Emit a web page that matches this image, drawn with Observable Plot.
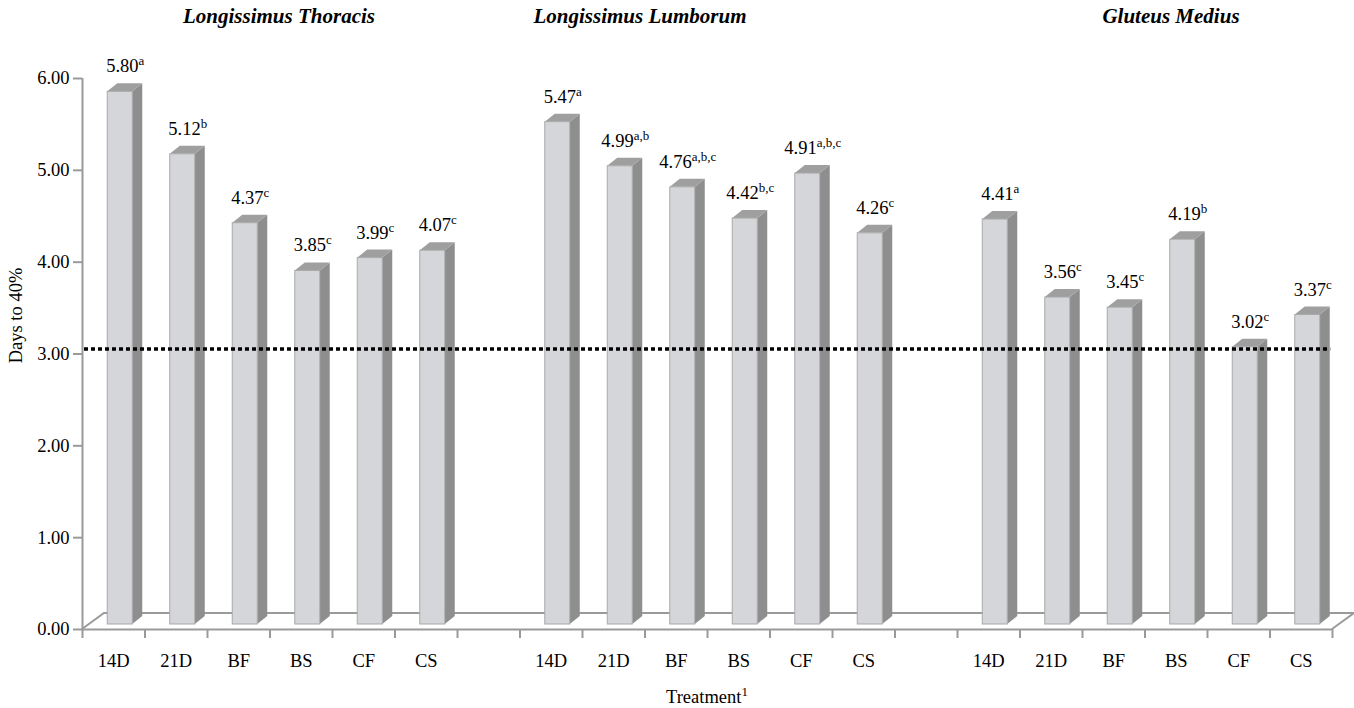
<!DOCTYPE html>
<html><head><meta charset="utf-8">
<script src="https://cdn.jsdelivr.net/npm/d3@7"></script>
<script src="https://cdn.jsdelivr.net/npm/@observablehq/plot@0.6"></script>
<style>
body{margin:0;background:#fff}
#chart{position:relative;width:1354px;height:708px;font-family:"Liberation Serif",serif}
.gt{position:absolute;top:4px;font-weight:bold;font-style:italic;font-size:21px;transform:translateX(-50%);white-space:nowrap}
</style>
</head><body><div id="chart"></div>
<script>
// ---- data ----
const groups = ["Longissimus Thoracis", "Longissimus Lumborum", "Gluteus Medius"];
const treatments = ["14D", "21D", "BF", "BS", "CF", "CS"];
const thoracis = [5.80, 5.12, 4.37, 3.85, 3.99, 4.07];
const thoracisSig = ["a", "b", "c", "c", "c", "c"];
const lumborum = [5.47, 4.99, 4.76, 4.42, 4.91, 4.26];
const lumborumSig = ["a", "a,b", "a,b,c", "b,c", "a,b,c", "c"];
const medius = [4.41, 3.56, 3.45, 4.19, 3.02, 3.37];
const mediusSig = ["a", "c", "c", "b", "c", "c"];
const yTicks = [0, 1, 2, 3, 4, 5, 6];
const reference = 3.00;
const yLabel = "Days to 40%";
const xLabel = "Treatment";
const xLabelNote = "1";

const values = [thoracis, lumborum, medius];
const sigs = [thoracisSig, lumborumSig, mediusSig];
const perGroup = treatments.length + 1;
const nSlots = groups.length * perGroup - 1;
const rows = [];
groups.forEach((g, gi) => treatments.forEach((t, ti) => rows.push({
  group: g, treatment: t, slot: gi * perGroup + ti, value: values[gi][ti], sig: sigs[gi][ti]
})));

// ---- style constants ----
const FONT = "Liberation Serif";
const FS = 18.5;
const AX = "#9a9a9a";
const shiftX = 7, shiftY = 5;       // bar plane offset from front plane
const capX = 10, capY = 8;          // bar depth
const floorX = 22, floorY = 16;     // floor depth

function floor3d(index, {x, y}) {
  const g = d3.create("svg:g").attr("fill", "none").attr("stroke", AX).attr("stroke-width", 2);
  const x0 = x(0), x1 = x(nSlots), y0 = y(0);
  g.append("path").attr("d", `M${x0},${y0}L${x0 + floorX},${y0 - floorY}L${x1 + floorX},${y0 - floorY}L${x1},${y0}`);
  return g.node();
}

function bars3d(index, {x, y}) {
  const g = d3.create("svg:g");
  const bw = (x(1) - x(0)) * 0.4;
  for (const d of rows) {
    const xa = x(d.slot + 0.5) - bw / 2 + shiftX - 0.5;
    const xb = xa + bw;
    const yt = y(d.value) - shiftY;
    const yb = y(0) - shiftY;
    g.append("path").attr("fill", "#8e8e8e")
      .attr("d", `M${xb},${yb}L${xb},${yt}L${xb + capX},${yt - capY}L${xb + capX},${yb - capY}Z`);
    g.append("path").attr("fill", "#9f9f9f")
      .attr("d", `M${xa},${yt}L${xb},${yt}L${xb + capX},${yt - capY}L${xa + capX},${yt - capY}Z`);
    g.append("rect").attr("x", xa).attr("y", yt).attr("width", bw).attr("height", yb - yt)
      .attr("fill", "#d5d6d9").attr("stroke", "#a9a9a9").attr("stroke-width", 1);
  }
  return g.node();
}

function valueLabels(index, {x, y}) {
  const g = d3.create("svg:g").attr("font-size", FS).attr("text-anchor", "middle").attr("fill", "black")
    .attr("font-family", FONT);
  for (const d of rows) {
    const t = g.append("text").attr("x", x(d.slot + 0.5) + 12).attr("y", y(d.value) - 24);
    t.append("tspan").text(d.value.toFixed(2));
    t.append("tspan").attr("dy", -7).attr("font-size", 13).text(d.sig);
  }
  return g.node();
}

function axisTitles(index, {x, y}) {
  const g = d3.create("svg:g").attr("font-family", FONT).attr("fill", "black").attr("font-size", FS);
  const t = g.append("text").attr("x", x(nSlots / 2)).attr("y", 703).attr("text-anchor", "middle");
  t.append("tspan").text(xLabel);
  t.append("tspan").attr("dy", -7).attr("font-size", 13).text(xLabelNote);
  g.append("text").attr("transform", `translate(22,${(y(0) + y(6)) / 2 - 38}) rotate(-90)`)
    .attr("text-anchor", "middle").text(yLabel);
  return g.node();
}

const plot = Plot.plot({
  width: 1354, height: 708,
  marginLeft: 82, marginRight: 22, marginTop: 78, marginBottom: 79,
  style: {fontFamily: FONT, fontSize: FS + "px", color: "black", background: "white"},
  x: {domain: [0, nSlots]},
  y: {domain: [0, 6]},
  marks: [
    floor3d,
    Plot.ruleY([0], {stroke: AX, strokeWidth: 2}),
    Plot.ruleX([0], {stroke: AX, strokeWidth: 2}),
    Plot.axisY({ticks: yTicks, tickFormat: d3.format(".2f"), tickSize: 9, tickPadding: 4, stroke: AX, strokeWidth: 2, label: null, fontSize: FS}),
    Plot.axisX({ticks: d3.range(0, nSlots + 1), tickSize: 9, tickFormat: () => "", stroke: AX, strokeWidth: 2, label: null}),
    Plot.text(rows, {x: d => d.slot + 0.5, y: 0, text: "treatment", dy: 32, fontSize: FS, lineAnchor: "middle"}),
    bars3d,
    Plot.ruleY([reference], {x1: 0, x2: nSlots - 0.06, dy: -shiftY, dx: 2, stroke: "black", strokeWidth: 3.5, strokeDasharray: "4,3"}),
    valueLabels,
    axisTitles
  ]
});
const chart = document.getElementById("chart");
chart.appendChild(plot);
const titleX = [279, 640, 1171];
groups.forEach((g, i) => {
  const div = document.createElement("div");
  div.className = "gt";
  div.style.left = titleX[i] + "px";
  div.textContent = g;
  chart.appendChild(div);
});
</script>
</body></html>
